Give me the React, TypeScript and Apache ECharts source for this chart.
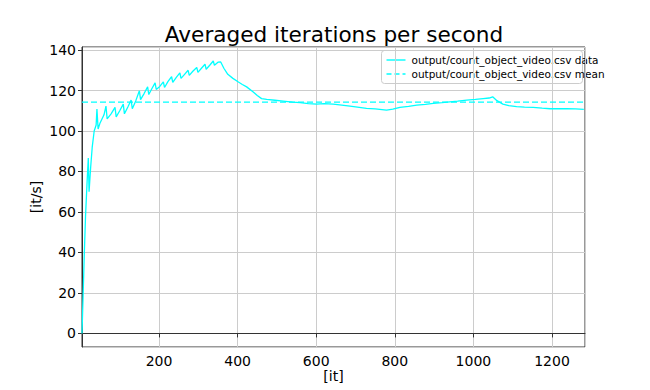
import React, { useEffect, useRef } from "react";
import * as echarts from "echarts";

const iterations: number[] = [
  4, 7, 10, 13, 17, 20, 22, 26, 30, 35, 40, 42, 45, 50, 60, 65, 68, 78, 88, 91,
  100, 109, 112, 121, 129, 132, 141, 150, 153, 162, 171, 174, 182, 190, 193, 202,
  211, 214, 223, 232, 235, 244, 253, 256, 265, 274, 277, 286, 296, 299, 308, 317,
  320, 329, 338, 341, 350, 357, 365, 375, 388, 401, 412, 423, 439, 450, 461, 474,
  495, 516, 540, 559, 580, 601, 620, 643, 665, 686, 705, 728, 750, 779, 795, 813,
  835, 856, 878, 898, 920, 940, 960, 983, 1005, 1025, 1040, 1049, 1060, 1075, 1090,
  1110, 1130, 1152, 1175, 1195, 1215, 1237, 1260, 1281,
];

const itPerSec: number[] = [
  0, 20, 40, 58, 75, 86.7, 70, 82, 92, 100, 103, 110.8, 101, 104, 108, 112.3, 106,
  108.5, 111.7, 107, 110, 113.3, 108.5, 112, 115.3, 111, 115, 119.9, 115.5, 118.5,
  121.8, 118, 121, 123.8, 120.5, 122, 124.3, 121.5, 124.5, 126.8, 124, 126.5, 128.7,
  126, 128, 130, 127.5, 129.5, 131.4, 129, 131, 133, 130.5, 132.5, 134.6, 132.5,
  134, 134.1, 131, 128, 126, 124.3, 123, 121.8, 119.4, 117.5, 116, 115.6, 115.2,
  114.8, 114.3, 114, 113.5, 113.3, 113.5, 113.3, 112.8, 112.3, 111.8, 111.2, 110.9,
  110.3, 110.8, 111.7, 112.2, 112.8, 113.2, 113.6, 114, 114.4, 114.8, 115.3, 115.6,
  116, 116.3, 116.9, 115, 113.3, 112.5, 112, 111.8, 111.7, 111.3, 111, 111, 111,
  110.9, 110.7,
];

const meanValue = 114.3;
const xRange: number[] = [4, 1284];
const yRange: number[] = [-6.7, 141.5];
const dataName = "output/count_object_video.csv data";
const meanName = "output/count_object_video.csv mean";
const titleText = "Averaged iterations per second";

export default function App() {
  const ref = useRef<HTMLDivElement>(null);
  useEffect(() => {
    if (!ref.current) return;
    const chart = echarts.init(ref.current, undefined, { renderer: "svg" });
    const font = "DejaVu Sans";
    const cyan = "#00ffff";
    const dataPoints = iterations.map((x, i) => [x, itPerSec[i]]);
    const meanPoints = [
      [xRange[0], meanValue],
      [xRange[1], meanValue],
    ];
    const niceLabel = (step: number) => (v: number) =>
      Math.abs(v / step - Math.round(v / step)) < 1e-6 ? String(Math.round(v)) : "";
    const legendText = { fontFamily: font, fontSize: 10.5, fill: "#000", verticalAlign: "middle" };
    chart.setOption({
      animation: false,
      backgroundColor: "#ffffff",
      title: {
        text: titleText,
        left: 329,
        top: 18,
        textAlign: "center",
        textStyle: { fontFamily: font, fontSize: 21.6, fontWeight: "normal", color: "#000" },
      },
      graphic: [
        {
          type: "group",
          left: 381,
          top: 50,
          z: 100,
          children: [
            {
              type: "rect",
              shape: { x: 0, y: 0, width: 201, height: 33, r: 3 },
              style: { fill: "rgba(255,255,255,0.8)", stroke: "#cccccc", lineWidth: 1 },
            },
            {
              type: "line",
              shape: { x1: 5, y1: 9.5, x2: 24, y2: 9.5 },
              style: { stroke: cyan, lineWidth: 1.4 },
            },
            {
              type: "text",
              x: 30,
              y: 9.5,
              style: { ...legendText, text: dataName },
            },
            {
              type: "line",
              shape: { x1: 5, y1: 23.5, x2: 24, y2: 23.5 },
              style: { stroke: cyan, lineWidth: 1.4, lineDash: [5, 3] },
            },
            {
              type: "text",
              x: 30,
              y: 23.5,
              style: { ...legendText, text: meanName },
            },
          ],
        },
      ],
      grid: {
        left: 82,
        right: 65,
        top: 47,
        bottom: 43,
        show: true,
        containLabel: false,
        outerBoundsMode: "none",
        borderColor: "#333333",
        borderWidth: 1,
        backgroundColor: "transparent",
      },
      xAxis: {
        type: "value",
        min: xRange[0],
        max: xRange[1],
        splitNumber: 6,
        name: "[it]",
        nameLocation: "middle",
        nameGap: 22,
        nameMoveOverlap: false,
        nameTextStyle: { fontFamily: font, fontSize: 14, color: "#000" },
        axisLine: { show: true, lineStyle: { color: "#333333" } },
        axisTick: { show: true, length: 4, lineStyle: { color: "#333333" } },
        axisLabel: {
          fontFamily: font,
          fontSize: 14,
          color: "#000",
          margin: 7,
          formatter: niceLabel(200),
          showMinLabel: false,
          showMaxLabel: false,
        },
        splitLine: { show: true, lineStyle: { color: "#cccccc", width: 1 } },
      },
      yAxis: {
        type: "value",
        min: yRange[0],
        max: yRange[1],
        splitNumber: 7,
        name: "[it/s]",
        nameLocation: "middle",
        nameGap: 39,
        nameMoveOverlap: false,
        nameRotate: 90,
        nameTextStyle: { fontFamily: font, fontSize: 14, color: "#000" },
        axisLine: { show: true, lineStyle: { color: "#333333" } },
        axisTick: { show: true, length: 4, lineStyle: { color: "#333333" } },
        axisLabel: {
          fontFamily: font,
          fontSize: 14,
          color: "#000",
          margin: 6,
          formatter: niceLabel(20),
          showMinLabel: false,
          showMaxLabel: false,
        },
        splitLine: { show: true, lineStyle: { color: "#cccccc", width: 1 } },
      },
      series: [
        {
          name: dataName,
          type: "line",
          data: dataPoints,
          symbol: "none",
          lineStyle: { color: cyan, width: 1.3 },
          itemStyle: { color: cyan },
        },
        {
          name: meanName,
          type: "line",
          data: meanPoints,
          symbol: "none",
          lineStyle: { color: cyan, width: 1.3, type: [6, 3] },
          itemStyle: { color: cyan },
        },
      ],
    });
    return () => chart.dispose();
  }, []);
  return (
    <div
      ref={ref}
      style={{ position: "absolute", left: 0, top: 0, width: 650, height: 390 }}
    />
  );
}
